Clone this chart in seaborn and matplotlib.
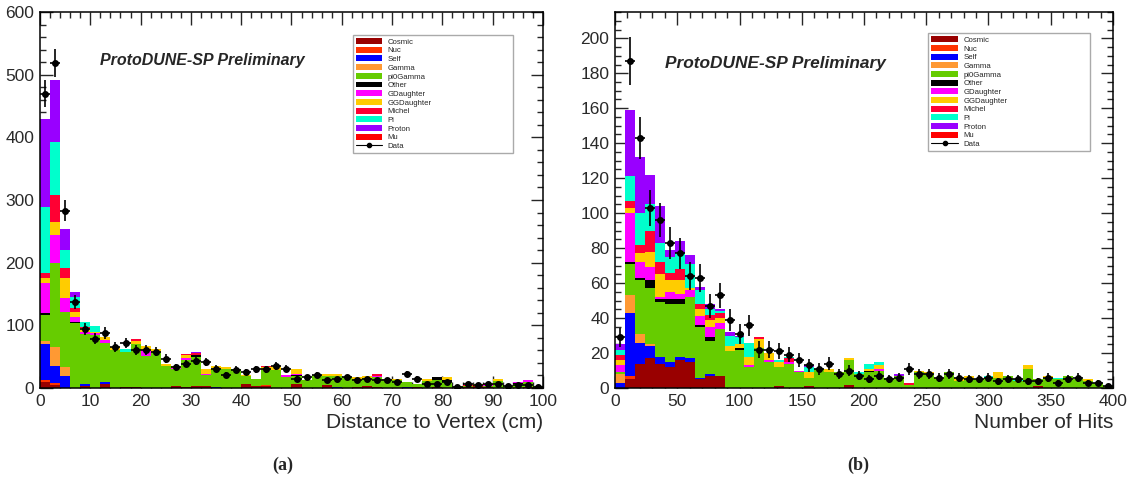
import numpy as np
import pandas as pd
import matplotlib
matplotlib.use("Agg")
import matplotlib.pyplot as plt
from matplotlib.patches import Patch
from matplotlib.lines import Line2D
from matplotlib.ticker import MultipleLocator
import seaborn as sns

categories = ["Cosmic", "Nuc", "Self", "Gamma", "pi0Gamma", "Other",
              "GDaughter", "GGDaughter", "Michel", "Pi", "Proton", "Mu"]
colors = ["#990000", "#ff3300", "#0000ff", "#ff9933", "#66cc00", "#000000",
          "#ff00ff", "#ffcc00", "#ff0033", "#00ffcc", "#9900ff", "#ff0000"]

# ---- panel (a): distance to vertex, 2 cm bins ----
a_cosmic = [10, 5, 0, 0, 4, 0, 7, 0, 2, 2,
            0, 0, 0, 3, 2, 4, 3, 0, 0, 0,
            7, 4, 4, 0, 0, 7, 0, 0, 5, 0,
            0, 2, 4, 1, 0, 0, 0, 1, 0, 2,
            0, 1, 1, 3, 2, 0, 0, 0, 2, 0]
a_nuc = [3, 3, 0, 0, 0, 0, 0, 0, 0, 0,
         0, 0, 0, 0, 0, 0, 0, 0, 0, 0,
         0, 0, 1, 0, 0, 0, 0, 0, 0, 0,
         0, 0, 0, 0, 0, 0, 0, 0, 0, 0,
         0, 0, 0, 0, 0, 0, 0, 0, 0, 0]
a_self = [58, 27, 19, 0, 2, 0, 3, 0, 0, 0,
          0, 0, 0, 0, 0, 0, 0, 1, 0, 0,
          0, 0, 0, 0, 0, 0, 0, 0, 0, 1,
          0, 0, 0, 0, 0, 0, 2, 0, 0, 0,
          0, 0, 0, 0, 0, 0, 0, 0, 0, 0]
a_gamma = [4, 31, 14, 0, 1, 0, 0, 0, 0, 0,
           0, 0, 0, 0, 0, 0, 0, 0, 0, 0,
           0, 0, 0, 0, 0, 0, 0, 0, 0, 0,
           0, 0, 0, 0, 0, 0, 0, 0, 0, 0,
           0, 0, 0, 0, 0, 0, 0, 0, 0, 0]
a_pi0gamma = [41, 133, 89, 104, 79, 85, 62, 61, 56, 68,
              51, 58, 35, 27, 43, 46, 18, 31, 31, 31,
              12, 10, 26, 29, 18, 12, 13, 21, 14, 18,
              17, 12, 12, 16, 15, 12, 8, 5, 11, 11,
              10, 2, 3, 2, 2, 11, 3, 7, 7, 3]
a_other = [3, 0, 0, 2, 0, 0, 0, 0, 0, 0,
           0, 0, 0, 0, 0, 2, 0, 0, 0, 0,
           0, 0, 0, 0, 0, 1, 0, 0, 0, 0,
           0, 0, 0, 0, 0, 0, 0, 0, 0, 4,
           2, 0, 0, 0, 0, 0, 0, 1, 0, 0]
a_gdaughter = [48, 45, 21, 8, 4, 3, 5, 0, 0, 0,
               10, 0, 0, 2, 3, 1, 2, 0, 0, 0,
               0, 0, 0, 0, 3, 2, 0, 0, 0, 0,
               0, 1, 0, 2, 0, 0, 0, 0, 0, 0,
               0, 0, 0, 0, 1, 0, 0, 2, 3, 0]
a_ggdaughter = [8, 21, 32, 8, 6, 1, 5, 5, 0, 5,
                6, 5, 4, 3, 4, 0, 7, 3, 3, 0,
                2, 0, 2, 6, 0, 8, 0, 0, 3, 3,
                0, 2, 3, 0, 0, 3, 0, 0, 4, 0,
                6, 0, 0, 2, 0, 3, 0, 0, 0, 0]
a_michel = [9, 43, 16, 5, 2, 0, 0, 0, 0, 3,
            0, 0, 0, 0, 3, 3, 0, 0, 0, 0,
            0, 0, 2, 0, 0, 0, 0, 0, 0, 0,
            0, 0, 0, 3, 0, 0, 0, 0, 0, 0,
            0, 0, 1, 0, 1, 0, 0, 0, 0, 0]
a_pi = [105, 85, 30, 19, 7, 10, 0, 0, 4, 0,
        0, 0, 0, 0, 0, 0, 0, 0, 0, 0,
        0, 0, 0, 0, 0, 0, 0, 0, 0, 0,
        0, 0, 0, 0, 0, 0, 0, 0, 0, 0,
        0, 0, 0, 0, 0, 0, 0, 0, 0, 0]
a_proton = [141, 98, 32, 8, 0, 0, 0, 0, 0, 0,
            0, 0, 0, 0, 0, 2, 0, 0, 0, 0,
            0, 0, 0, 0, 0, 0, 0, 0, 0, 0,
            0, 0, 0, 0, 0, 0, 0, 0, 0, 0,
            0, 0, 0, 0, 0, 0, 0, 0, 0, 0]
a_mu = [0, 0, 0, 0, 0, 0, 0, 0, 0, 0,
        0, 0, 0, 0, 0, 0, 0, 0, 0, 0,
        0, 0, 0, 0, 0, 0, 0, 0, 0, 0,
        0, 0, 0, 0, 0, 0, 0, 0, 0, 0,
        0, 0, 0, 0, 0, 0, 0, 0, 0, 0]
a_data = [470, 519, 283, 137, 94, 79, 88, 65, 72, 61,
          61, 58, 47, 33, 39, 43, 42, 31, 21, 29,
          26, 30, 30, 35, 31, 15, 17, 21, 13, 14,
          17, 12, 14, 13, 13, 10, 22, 15, 6, 6,
          10, 2, 7, 5, 7, 7, 3, 5, 5, 2]

# ---- panel (b): number of hits, 8-hit bins ----
b_cosmic = [0, 5, 14, 17, 14, 12, 16, 15, 5, 7,
            7, 0, 0, 0, 0, 0, 1, 0, 0, 1,
            0, 0, 0, 2, 0, 0, 0, 0, 0, 0,
            0, 0, 0, 0, 0, 0, 0, 0, 0, 0,
            0, 0, 1, 0, 0, 0, 0, 0, 0, 0]
b_nuc = [0, 2, 0, 0, 0, 0, 0, 0, 0, 0,
         0, 0, 0, 0, 0, 0, 0, 0, 0, 0,
         0, 0, 0, 0, 0, 0, 0, 0, 0, 0,
         0, 0, 0, 0, 0, 0, 0, 0, 0, 0,
         0, 0, 0, 0, 0, 0, 0, 0, 0, 0]
b_self = [3, 36, 12, 7, 4, 3, 2, 2, 1, 1,
          0, 0, 0, 0, 0, 0, 0, 0, 0, 0,
          0, 0, 0, 0, 0, 0, 0, 0, 0, 0,
          0, 0, 0, 0, 0, 0, 0, 0, 0, 0,
          0, 0, 0, 0, 0, 0, 0, 0, 0, 0]
b_gamma = [5, 10, 5, 1, 0, 0, 0, 0, 0, 0,
           0, 0, 0, 0, 0, 0, 0, 0, 0, 0,
           0, 0, 0, 0, 0, 0, 0, 0, 0, 0,
           0, 0, 0, 0, 0, 0, 0, 0, 0, 0,
           0, 0, 0, 0, 0, 0, 0, 0, 0, 0]
b_pi0gamma = [1, 18, 31, 32, 31, 33, 30, 35, 29, 19,
              27, 21, 22, 12, 23, 15, 11, 14, 9, 5,
              11, 9, 9, 14, 8, 9, 10, 6, 7, 2,
              9, 8, 5, 9, 4, 6, 5, 6, 6, 7,
              4, 11, 4, 6, 5, 7, 5, 4, 3, 1]
b_other = [0, 1, 1, 5, 2, 3, 3, 0, 1, 2,
           0, 0, 1, 0, 0, 0, 0, 0, 0, 0,
           0, 0, 0, 0, 0, 1, 0, 0, 0, 0,
           0, 0, 0, 0, 0, 0, 0, 0, 0, 0,
           0, 0, 0, 0, 0, 0, 0, 0, 0, 0]
b_gdaughter = [4, 28, 9, 7, 1, 4, 3, 4, 5, 6,
               3, 0, 0, 1, 0, 1, 0, 1, 1, 0,
               0, 0, 0, 0, 0, 0, 1, 0, 0, 0,
               0, 0, 0, 0, 0, 0, 0, 0, 0, 0,
               0, 0, 0, 0, 0, 0, 0, 0, 0, 0]
b_ggdaughter = [3, 3, 5, 9, 13, 7, 8, 1, 4, 4,
                3, 3, 2, 5, 5, 4, 3, 0, 0, 3,
                0, 2, 0, 1, 0, 1, 2, 0, 0, 0,
                1, 1, 1, 0, 2, 1, 0, 0, 3, 0,
                0, 2, 0, 1, 0, 0, 0, 1, 0, 0]
b_michel = [3, 4, 5, 12, 7, 4, 6, 0, 3, 3,
            3, 0, 0, 0, 1, 0, 0, 2, 0, 0,
            0, 0, 0, 0, 0, 0, 0, 0, 0, 1,
            0, 0, 0, 0, 0, 0, 0, 0, 0, 0,
            0, 0, 0, 0, 0, 0, 0, 0, 0, 0]
b_pi = [3, 14, 18, 15, 11, 9, 9, 14, 8, 3,
        1, 6, 4, 8, 0, 0, 1, 1, 0, 3,
        0, 0, 0, 0, 1, 3, 2, 0, 0, 0,
        0, 0, 0, 0, 0, 0, 0, 1, 0, 0,
        1, 0, 0, 0, 1, 0, 0, 0, 0, 0]
b_proton = [3, 38, 32, 17, 21, 4, 7, 5, 2, 3,
            1, 2, 1, 0, 0, 0, 0, 0, 0, 1,
            0, 0, 0, 0, 0, 0, 0, 0, 1, 0,
            0, 0, 0, 0, 0, 0, 0, 0, 0, 0,
            0, 0, 0, 0, 0, 0, 0, 0, 0, 0]
b_mu = [0, 0, 0, 0, 0, 0, 0, 0, 0, 0,
        0, 0, 0, 0, 0, 0, 0, 0, 0, 0,
        0, 0, 0, 0, 0, 0, 0, 0, 0, 0,
        0, 0, 0, 0, 0, 0, 0, 0, 0, 0,
        0, 0, 0, 0, 0, 0, 0, 0, 0, 0]
b_data = [29, 187, 143, 103, 96, 83, 77, 64, 63, 47,
          53, 39, 31, 36, 22, 22, 21, 19, 16, 13,
          11, 14, 8, 10, 7, 5, 7, 5, 6, 11,
          8, 8, 6, 8, 6, 5, 5, 6, 4, 5,
          5, 4, 4, 6, 3, 5, 6, 3, 3, 1]

a_mc = [a_cosmic, a_nuc, a_self, a_gamma, a_pi0gamma, a_other,
        a_gdaughter, a_ggdaughter, a_michel, a_pi, a_proton, a_mu]
b_mc = [b_cosmic, b_nuc, b_self, b_gamma, b_pi0gamma, b_other,
        b_gdaughter, b_ggdaughter, b_michel, b_pi, b_proton, b_mu]

sns.set_theme(style="ticks")
plt.rcParams["font.family"] = ["Liberation Sans", "DejaVu Sans"]
plt.rcParams["axes.edgecolor"] = "black"
plt.rcParams["axes.linewidth"] = 1.1

palette = dict(zip(categories, colors))


def draw_panel(ax, edges, mc, data, xlabel, xmaj, xmin, ymaj, ymin, ytop,
               leg_box, txt_pos, txt_size):
    centers = (edges[:-1] + edges[1:]) / 2
    df = pd.concat([pd.DataFrame({"x": centers, "n": vals, "cat": name})
                    for name, vals in zip(categories, mc)], ignore_index=True)
    # seaborn puts the first hue level on top, so reverse for Cosmic at bottom
    sns.histplot(data=df, x="x", weights="n", hue="cat",
                 hue_order=categories[::-1], palette=palette, bins=edges.tolist(),
                 multiple="stack", element="step", alpha=1, linewidth=0,
                 legend=False, ax=ax)
    data = np.array(data, dtype=float)
    half = (edges[1] - edges[0]) / 2
    ax.errorbar(centers, data, yerr=np.sqrt(data), xerr=half, fmt="o",
                color="black", ms=4, elinewidth=1.2, capsize=0, zorder=5)

    ax.set_xlim(edges[0], edges[-1])
    ax.set_ylim(0, ytop)
    ax.xaxis.set_major_locator(MultipleLocator(xmaj))
    ax.xaxis.set_minor_locator(MultipleLocator(xmin))
    ax.yaxis.set_major_locator(MultipleLocator(ymaj))
    ax.yaxis.set_minor_locator(MultipleLocator(ymin))
    ax.tick_params(which="both", direction="in", top=True, right=True,
                   labelsize=12.5, labelcolor="#2a2a2a", width=1)
    ax.tick_params(which="major", length=9, pad=4)
    ax.tick_params(which="minor", length=4.5)
    ax.set_xlabel(xlabel, loc="right", fontsize=15, color="#2a2a2a", labelpad=3)
    ax.set_ylabel("")
    for s in ax.spines.values():
        s.set_visible(True)

    ax.text(txt_pos[0], txt_pos[1], "ProtoDUNE-SP Preliminary",
            transform=ax.transAxes, fontsize=txt_size, fontweight="bold",
            fontstyle="italic", va="center", ha="left")

    handles = [Patch(facecolor=c, edgecolor="none") for c in colors]
    handles.append(Line2D([], [], color="black", marker="o", ms=3, lw=0.8))
    leg = ax.legend(handles, categories + ["Data"], loc="upper left",
                    bbox_to_anchor=leg_box, mode="expand", fontsize=5.6,
                    frameon=True, fancybox=False, framealpha=1,
                    edgecolor="#aaaaaa", handlelength=3.4, handleheight=0.8,
                    handletextpad=0.7, labelspacing=0.13, borderpad=0.4,
                    borderaxespad=0)
    leg.get_frame().set_linewidth(1.0)


fig = plt.figure(figsize=(11.4, 4.82), dpi=100)
ax_a = fig.add_axes([0.0351, 0.195, 0.4412, 0.780])
ax_b = fig.add_axes([0.5395, 0.195, 0.4368, 0.780])

draw_panel(ax_a, np.arange(0, 101, 2), a_mc, a_data, "Distance to Vertex (cm)",
           10, 2, 100, 20, 600, (0.622, 0.0, 0.318, 0.939), (0.119, 0.871), 11.5)
draw_panel(ax_b, np.arange(0, 401, 8), b_mc, b_data, "Number of Hits",
           50, 10, 20, 5, 215, (0.629, 0.0, 0.325, 0.944), (0.100, 0.864), 12.4)

fig.text(283 / 1140, 1 - 465 / 482, "(a)", ha="center", va="center",
         family="Liberation Serif", fontweight="bold", fontsize=13)
fig.text(858 / 1140, 1 - 465 / 482, "(b)", ha="center", va="center",
         family="Liberation Serif", fontweight="bold", fontsize=13)

fig.savefig("out.png", dpi=100)
